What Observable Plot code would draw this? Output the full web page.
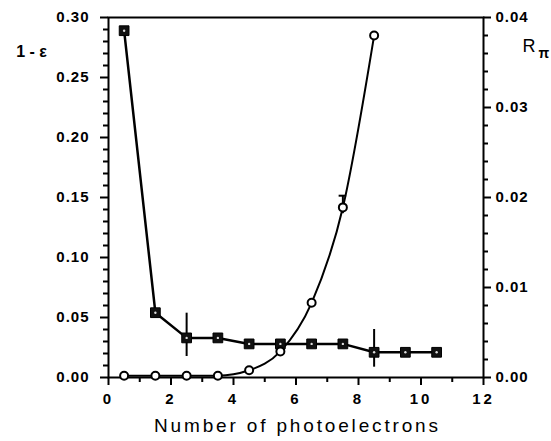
<!DOCTYPE html>
<html>
<head>
<meta charset="utf-8">
<script src="https://cdn.jsdelivr.net/npm/d3@7"></script>
<script src="https://cdn.jsdelivr.net/npm/@observablehq/plot@0.6"></script>
<style>
  html, body { margin: 0; padding: 0; background: #fff; }
  #chart svg { display: block; font-family: 'Liberation Sans', Arial, Helvetica, sans-serif !important; font-size: 15px !important; font-weight: bold !important; color: #000 !important; }
  #chart svg g[aria-label="y-axis tick label"] text { letter-spacing: 1px; }
  #chart svg g[aria-label="x-axis tick label"] text { letter-spacing: 3px; }
</style>
</head>
<body>
<div id="chart"></div>
<script>
// Data
const xs = [0.5, 1.5, 2.5, 3.5, 4.5, 5.5, 6.5, 7.5, 8.5, 9.5, 10.5];
const oneMinusEps = [0.289, 0.054, 0.033, 0.033, 0.028, 0.028, 0.028, 0.028, 0.021, 0.021, 0.021];
const rPiX = [0.5, 1.5, 2.5, 3.5, 4.5, 5.5, 6.5, 7.5, 8.5];
const rPi = [0.0002, 0.0002, 0.0002, 0.0002, 0.0008, 0.0029, 0.0083, 0.0189, 0.038];
const epsErrX = [2.5, 8.5];
const epsErrLo = [0.0175, 0.0086];
const epsErrHi = [0.0536, 0.040];
const rErrX = [7.5];
const rErrLo = [0.0182];
const rErrHi = [0.0202];
const xTicks = [0, 2, 4, 6, 8, 10, 12];
const xMinor = [1, 3, 5, 7, 9, 11];
const leftTicks = [0, 0.05, 0.10, 0.15, 0.20, 0.25, 0.30];
const rightTicks = [0, 0.01, 0.02, 0.03, 0.04];
const xLabel = "Number of photoelectrons";
const leftLabel = "1 - ε";
const rightLabelMain = "R";
const rightLabelSub = "π";

const leftMax = 0.30, rightMax = 0.04;
const k = leftMax / rightMax; // map right axis onto left scale
const leftMinor = d3.range(0, 31, 1).map(v => v / 100).filter(v => !leftTicks.some(t => Math.abs(t - v) < 1e-9));
const rightMinor = d3.range(0, 21, 1).map(v => v * 0.002).filter(v => !rightTicks.some(t => Math.abs(t - v) < 1e-9));

const eps = xs.map((x, i) => ({x, y: oneMinusEps[i]}));
const rp = rPiX.map((x, i) => ({x, y: rPi[i] * k}));
const epsErr = epsErrX.map((x, i) => ({x, y1: epsErrLo[i], y2: epsErrHi[i]}));
const rErr = rErrX.map((x, i) => ({x, y1: rErrLo[i] * k, y2: rErrHi[i] * k}));

const W = 551, H = 441, mL = 108, mR = 68, mT = 17, mB = 64;
const fw = W - mL - mR, fh = H - mT - mB; // frame size, used to turn full-width rules into short ticks
const tickStyle = {stroke: "#000", strokeWidth: 2};

const chart = Plot.plot({
  width: W,
  height: H,
  marginLeft: mL,
  marginRight: mR,
  marginTop: mT,
  marginBottom: mB,
  x: {domain: [0, 12], label: null},
  y: {domain: [0, leftMax], label: null},
  marks: [
    // tick marks: rules trimmed by insets so only a short stub outside the frame remains
    Plot.ruleY(leftTicks, {y: d => d, insetLeft: -8, insetRight: fw, ...tickStyle}),
    Plot.ruleY(leftMinor, {y: d => d, insetLeft: -5, insetRight: fw, ...tickStyle}),
    Plot.ruleY(rightTicks.map(v => v * k), {y: d => d, insetRight: -8, insetLeft: fw, ...tickStyle}),
    Plot.ruleY(rightMinor.map(v => v * k), {y: d => d, insetRight: -5, insetLeft: fw, ...tickStyle}),
    Plot.ruleX(xTicks, {x: d => d, insetBottom: -8, insetTop: fh, ...tickStyle}),
    Plot.ruleX(xMinor, {x: d => d, insetBottom: -5, insetTop: fh, ...tickStyle}),
    Plot.frame({stroke: "#000", strokeWidth: 2}),
    // tick labels
    Plot.axisY(leftTicks, {anchor: "left", tickSize: 0, tickPadding: 19, tickFormat: d => d.toFixed(2), label: null}),
    Plot.axisY(rightTicks.map(v => v * k), {anchor: "right", tickSize: 0, tickPadding: 12, tickFormat: d => (d / k).toFixed(2), label: null}),
    Plot.axisX(xTicks, {anchor: "bottom", tickSize: 0, tickPadding: 16, tickFormat: d => String(d), label: null}),
    // error bars
    Plot.ruleX(epsErr, {x: "x", y1: "y1", y2: "y2", stroke: "#000", strokeWidth: 2}),
    Plot.ruleX(rErr, {x: "x", y1: "y1", y2: "y2", stroke: "#000", strokeWidth: 2}),
    Plot.ruleY(rErr, {y: "y2", x1: d => d.x - 0.12, x2: d => d.x + 0.12, stroke: "#000", strokeWidth: 2}),
    // lines
    Plot.line(eps, {x: "x", y: "y", stroke: "#000", strokeWidth: 2.5}),
    Plot.line(rp, {x: "x", y: "y", stroke: "#000", strokeWidth: 2, curve: "monotone-x"}),
    // markers
    Plot.dot(eps, {x: "x", y: "y", symbol: "square", r: 5.5, fill: "#111", stroke: "#000", strokeWidth: 1}),
    Plot.dot(eps, {x: "x", y: "y", r: 1.2, fill: "#ddd", stroke: "none"}),
    Plot.dot(rp, {x: "x", y: "y", r: 4, fill: "#fff", stroke: "#000", strokeWidth: 2}),
    // axis titles
    Plot.text([xLabel], {frameAnchor: "bottom", dy: 48, text: d => d, fontSize: 19, fontWeight: "normal", lineAnchor: "middle", fill: "#000"}),
    Plot.text([leftLabel], {frameAnchor: "top-left", dx: -77, dy: 34, text: d => d, fontSize: 16, fontWeight: "bold", lineAnchor: "middle", textAnchor: "middle", fill: "#000"}),
    Plot.text([rightLabelMain], {frameAnchor: "top-right", dx: 39, dy: 29, text: d => d, fontSize: 18, fontWeight: "normal", lineAnchor: "middle", textAnchor: "start", fill: "#000"}),
    Plot.text([rightLabelSub], {frameAnchor: "top-right", dx: 55, dy: 36, text: d => d, fontSize: 14, fontWeight: "bold", lineAnchor: "middle", textAnchor: "start", fill: "#000"})
  ]
});

const svgRoot = chart.tagName.toLowerCase() === "svg" ? chart : chart.querySelector("svg");
d3.select(svgRoot).selectAll("text")
  .filter(function() { return this.textContent === xLabel; })
  .attr("textLength", 284)
  .attr("lengthAdjust", "spacing");

document.getElementById("chart").appendChild(chart);
</script>
</body>
</html>
